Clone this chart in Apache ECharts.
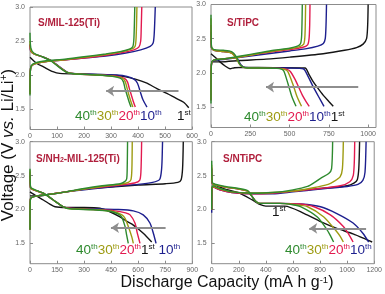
<!DOCTYPE html>
<html><head><meta charset="utf-8">
<script src="https://cdn.jsdelivr.net/npm/echarts@6/dist/echarts.min.js"></script>
<style>html,body{margin:0;padding:0;background:#fff}#c{width:385px;height:294px}</style>
</head><body><div id="c"></div>
<script>
const cycleNames = ['1st','10th','20th','30th','40th'];
const cycleColors = ['#141414','#1d1f8e','#e21a4f','#9d9b12','#2e8a2e'];
const yTicks = [1.5, 2.0, 2.5, 3.0];
const aXTicks = [0,100,200,300,400,500,600];
const bXTicks = [0,250,500,750,1000];
const cXTicks = [0,150,300,450,600,750,900];
const dXTicks = [0,200,400,600,800,1000,1200];
const panelTitles = ['S/MIL-125(Ti)','S/TiPC','S/NH2-MIL-125(Ti)','S/NTiPC'];

// Panel A: S/MIL-125(Ti)  discharge / charge, cycles 1,10,20,30,40
const aDis1 = [[0,2.26],[25,2.17],[50,2.12],[85,2.05],[110,2.025],[200,2.015],[300,2.0],[345,1.98],[390,1.94],[433,1.88],[470,1.8],[507,1.73],[540,1.66],[569,1.6],[588,1.52]];
const aDis10 = [[0,2.45],[3,2.35],[15,2.31],[45,2.27],[80,2.21],[110,2.12],[140,2.04],[170,2.02],[250,2.01],[320,2.0],[359,1.98],[385,1.94],[398,1.88],[408,1.76],[418,1.64],[433,1.53]];
const aDis20 = [[0,2.45],[3,2.35],[15,2.31],[45,2.27],[78,2.21],[108,2.12],[138,2.04],[165,2.02],[250,2.0],[320,1.985],[350,1.95],[361,1.9],[368,1.8],[375,1.71],[382,1.62],[390,1.53]];
const aDis30 = [[0,2.5],[3,2.36],[15,2.31],[45,2.27],[78,2.21],[108,2.12],[138,2.04],[165,2.02],[250,2.0],[315,1.98],[343,1.95],[353,1.9],[360,1.8],[366,1.71],[373,1.62],[381,1.53]];
const aDis40 = [[0,2.62],[3,2.4],[15,2.32],[45,2.27],[76,2.21],[106,2.12],[136,2.04],[160,2.02],[250,2.0],[305,1.98],[336,1.95],[346,1.9],[352,1.8],[359,1.71],[366,1.62],[374,1.53]];
const aChg10 = [[0,1.75],[1,2.05],[5,2.13],[20,2.17],[60,2.2],[120,2.22],[200,2.25],[280,2.28],[350,2.32],[410,2.37],[445,2.42],[456,2.47],[460,2.6],[464,3.0]];
const aChg20 = [[0,1.72],[1,2.05],[5,2.13],[20,2.17],[60,2.2],[120,2.22],[200,2.25],[280,2.29],[340,2.33],[385,2.37],[403,2.41],[410,2.5],[412,2.7],[414,3.0]];
const aChg30 = [[0,1.72],[1,2.05],[5,2.13],[20,2.17],[60,2.2],[120,2.22],[200,2.26],[280,2.3],[335,2.34],[375,2.38],[389,2.42],[393,2.55],[396,3.0]];
const aChg40 = [[0,1.7],[1,2.05],[5,2.14],[20,2.18],[60,2.21],[120,2.23],[200,2.27],[280,2.31],[330,2.34],[368,2.38],[381,2.42],[385,2.55],[388,3.0]];
const aArrow = [[550,1.765],[282,1.765]];

// Panel B: S/TiPC
const bDis1 = [[0,2.28],[30,2.22],[57,2.16],[90,2.1],[121,2.06],[150,2.075],[200,2.08],[400,2.075],[598,2.07],[625,1.97],[650,1.87],[675,1.79],[715,1.67],[750,1.58],[778,1.51]];
const bDis10 = [[0,2.6],[3,2.37],[20,2.33],[80,2.31],[135,2.29],[165,2.22],[190,2.12],[215,2.08],[300,2.075],[500,2.07],[587,2.06],[615,1.96],[645,1.82],[685,1.65],[719,1.51]];
const bDis20 = [[0,2.7],[3,2.37],[20,2.33],[80,2.31],[132,2.29],[160,2.22],[185,2.12],[210,2.08],[300,2.07],[440,2.065],[482,2.05],[505,2.02],[538,1.89],[560,1.78],[582,1.67],[605,1.58],[625,1.51]];
const bDis30 = [[0,2.8],[3,2.37],[20,2.33],[80,2.31],[130,2.29],[158,2.22],[183,2.12],[205,2.08],[300,2.07],[430,2.065],[468,2.05],[488,2.02],[520,1.84],[548,1.65],[576,1.51]];
const bDis40 = [[0,2.85],[3,2.38],[20,2.34],[78,2.33],[131,2.31],[160,2.24],[180,2.14],[200,2.09],[230,2.07],[300,2.07],[420,2.065],[452,2.05],[465,2.02],[490,1.84],[515,1.65],[541,1.51]];
const bChg1 = [[0,2.16],[60,2.16],[184,2.18],[350,2.2],[502,2.23],[714,2.28],[850,2.33],[926,2.37],[968,2.42],[990,2.5],[997,2.7],[1000,3.0]];
const bChg10 = [[0,1.6],[1,2.05],[5,2.14],[20,2.18],[100,2.2],[200,2.23],[300,2.26],[400,2.29],[500,2.32],[600,2.35],[680,2.39],[715,2.43],[727,2.5],[732,2.7],[735,3.0]];
const bChg20 = [[0,1.6],[1,2.05],[5,2.15],[20,2.19],[100,2.21],[200,2.24],[300,2.28],[400,2.31],[500,2.34],[580,2.37],[615,2.41],[624,2.5],[628,2.7],[630,3.0]];
const bChg30 = [[0,1.6],[1,2.05],[5,2.15],[20,2.19],[100,2.21],[200,2.24],[300,2.28],[400,2.32],[500,2.35],[560,2.38],[590,2.42],[598,2.55],[602,3.0]];
const bChg40 = [[0,1.55],[1,2.05],[5,2.16],[20,2.19],[100,2.21],[200,2.25],[300,2.29],[400,2.33],[500,2.36],[550,2.39],[570,2.43],[577,2.55],[581,3.0]];
const bArrow = [[937,1.79],[350,1.79]];

// Panel C: S/NH2-MIL-125(Ti)
const cDis1 = [[0,2.26],[35,2.2],[74,2.14],[110,2.08],[139,2.04],[200,2.03],[300,2.03],[388,2.02],[440,1.97],[499,1.89],[540,1.82],[573,1.77],[628,1.65],[675,1.52]];
const cDis10 = [[0,2.5],[3,2.32],[20,2.29],[74,2.24],[129,2.14],[185,2.04],[222,2.02],[350,2.01],[480,2.0],[573,1.98],[628,1.92],[665,1.8],[684,1.65],[699,1.5]];
const cDis20 = [[0,2.55],[3,2.32],[20,2.29],[74,2.24],[129,2.14],[185,2.04],[222,2.02],[350,2.0],[470,1.98],[530,1.95],[555,1.92],[582,1.8],[595,1.65],[610,1.5]];
const cDis30 = [[0,2.58],[3,2.32],[20,2.29],[74,2.24],[129,2.14],[185,2.04],[222,2.01],[350,2.0],[460,1.97],[510,1.92],[527,1.87],[545,1.75],[564,1.6],[573,1.5]];
const cDis40 = [[0,2.6],[3,2.33],[20,2.3],[74,2.24],[129,2.14],[185,2.04],[222,2.01],[350,1.995],[450,1.97],[490,1.93],[508,1.89],[527,1.75],[536,1.62],[545,1.5]];
const cChg1 = [[0,2.2],[50,2.2],[100,2.22],[200,2.26],[300,2.3],[450,2.33],[600,2.36],[750,2.38],[820,2.4],[838,2.44],[846,2.6],[850,3.0]];
const cChg10 = [[0,1.7],[1,2.1],[5,2.17],[40,2.2],[100,2.22],[200,2.26],[300,2.29],[400,2.32],[500,2.35],[600,2.37],[680,2.4],[718,2.44],[728,2.55],[732,2.7],[735,3.0]];
const cChg20 = [[0,1.7],[1,2.1],[5,2.17],[40,2.2],[100,2.22],[200,2.26],[300,2.3],[400,2.33],[500,2.36],[580,2.39],[608,2.43],[615,2.55],[619,3.0]];
const cChg30 = [[0,1.7],[1,2.1],[5,2.17],[40,2.2],[100,2.22],[200,2.26],[300,2.3],[400,2.34],[500,2.37],[545,2.4],[560,2.44],[565,2.6],[567,3.0]];
const cChg40 = [[0,1.7],[1,2.1],[5,2.17],[40,2.2],[100,2.22],[200,2.26],[300,2.31],[400,2.35],[500,2.38],[525,2.41],[536,2.45],[539,2.6],[541,3.0]];
const cArrow = [[752,1.73],[449,1.73]];

// Panel D: S/NTiPC
const dDis1 = [[0,2.42],[5,2.39],[84,2.31],[204,2.24],[300,2.14],[360,2.07],[400,2.05],[540,2.05],[684,1.94],[804,1.82],[924,1.72],[1044,1.64],[1140,1.56],[1185,1.52]];
const dDis10 = [[0,2.6],[3,2.4],[12,2.37],[100,2.33],[200,2.3],[265,2.27],[295,2.2],[325,2.12],[355,2.09],[500,2.09],[660,2.08],[804,2.04],[924,1.94],[1044,1.8],[1116,1.65],[1159,1.52]];
const dDis20 = [[0,2.62],[3,2.4],[12,2.37],[100,2.33],[200,2.3],[265,2.27],[295,2.2],[325,2.12],[355,2.09],[500,2.09],[650,2.08],[756,2.04],[876,1.92],[972,1.75],[1010,1.64],[1044,1.52]];
const dDis30 = [[0,2.66],[3,2.41],[12,2.37],[100,2.33],[200,2.3],[265,2.27],[295,2.2],[325,2.12],[355,2.09],[500,2.09],[620,2.07],[708,2.04],[828,1.89],[912,1.7],[950,1.6],[972,1.52]];
const dDis40 = [[0,2.72],[3,2.42],[12,2.38],[100,2.34],[200,2.31],[265,2.28],[295,2.2],[325,2.12],[355,2.09],[500,2.09],[600,2.07],[660,2.04],[780,1.89],[852,1.7],[880,1.6],[900,1.52]];
const dChg1 = [[0,2.0],[1,2.28],[10,2.33],[60,2.3],[150,2.26],[300,2.24],[450,2.24],[600,2.27],[800,2.31],[1000,2.35],[1050,2.39],[1075,2.44],[1086,2.6],[1092,3.0]];
const dChg10 = [[0,1.95],[1,2.28],[10,2.33],[60,2.29],[150,2.25],[300,2.23],[450,2.23],[600,2.26],[800,2.3],[1000,2.34],[1080,2.37],[1116,2.43],[1132,2.55],[1140,3.0]];
const dChg20 = [[0,2.0],[1,2.28],[10,2.33],[60,2.29],[150,2.25],[300,2.23],[450,2.24],[600,2.27],[800,2.31],[950,2.35],[1020,2.41],[1045,2.5],[1053,2.7],[1056,3.0]];
const dChg30 = [[0,2.0],[1,2.29],[10,2.34],[60,2.3],[150,2.26],[300,2.24],[450,2.25],[600,2.27],[750,2.32],[860,2.37],[900,2.41],[948,2.48],[965,2.6],[972,3.0]];
const dChg40 = [[0,2.0],[1,2.3],[10,2.35],[60,2.31],[150,2.26],[300,2.24],[450,2.25],[600,2.29],[708,2.34],[760,2.4],[804,2.46],[864,2.53],[885,2.6],[893,3.0]];
const dArrow = [[1140,1.72],[720,1.72]];

const FONT = "'Liberation Sans', Arial, Helvetica, sans-serif";
const panels = [
  {grid:{left:30, top:7, width:162, height:122.5}, xMax:600, xTicks:aXTicks,
   dis:[aDis1,aDis10,aDis20,aDis30,aDis40], chg:[null,aChg10,aChg20,aChg30,aChg40], arrow:aArrow},
  {grid:{left:211, top:4.5, width:165, height:123}, xMax:1050, xTicks:bXTicks,
   dis:[bDis1,bDis10,bDis20,bDis30,bDis40], chg:[bChg1,bChg10,bChg20,bChg30,bChg40], arrow:bArrow},
  {grid:{left:30, top:141.7, width:162.3, height:122}, xMax:900, xTicks:cXTicks,
   dis:[cDis1,cDis10,cDis20,cDis30,cDis40], chg:[cChg1,cChg10,cChg20,cChg30,cChg40], arrow:cArrow},
  {grid:{left:211.7, top:141.7, width:166.6, height:122}, xMax:1200, xTicks:dXTicks,
   dis:[dDis1,dDis10,dDis20,dDis30,dDis40], chg:[dChg1,dChg10,dChg20,dChg30,dChg40], arrow:dArrow}
];

const grids = [], xAxes = [], yAxes = [], series = [];
panels.forEach((p, i) => {
  grids.push(Object.assign({show:true, borderColor:'#8c8c8c', borderWidth:1, backgroundColor:'rgba(0,0,0,0)'}, p.grid));
  xAxes.push({type:'value', gridIndex:i, min:0, max:p.xMax,
    axisLine:{show:false}, splitLine:{show:false},
    axisTick:{show:true, inside:true, length:3, customValues:p.xTicks, lineStyle:{color:'#8c8c8c'}},
    axisLabel:{customValues:p.xTicks, fontSize:7, color:'#666', margin:3, fontFamily:FONT,
      formatter: v => String(Math.round(v))}});
  yAxes.push({type:'value', gridIndex:i, min:1.2, max:3.0,
    axisLine:{show:false}, splitLine:{show:false},
    axisTick:{show:true, inside:true, length:3, customValues:yTicks, lineStyle:{color:'#8c8c8c'}},
    axisLabel:{customValues:yTicks, fontSize:7, color:'#666', margin:5, fontFamily:FONT,
      formatter: v => Number(v).toFixed(1)}});
  const start = series.length;
  for (let k = 0; k < 5; k++) {
    [p.dis[k], p.chg[k]].forEach(d => {
      if (!d) return;
      series.push({type:'line', name:cycleNames[k], xAxisIndex:i, yAxisIndex:i, data:d,
        showSymbol:false, symbol:'none', smooth:0.25, silent:true,
        lineStyle:{color:cycleColors[k], width:1.4}, itemStyle:{color:cycleColors[k]}});
    });
  }
  series[start].markLine = {silent:true, symbol:['none','arrow'], symbolSize:8, animation:false,
    label:{show:false}, lineStyle:{color:'#8e8e8e', width:2, type:'solid'},
    emphasis:{disabled:true},
    data:[[{coord:p.arrow[0]},{coord:p.arrow[1]}]]};
});

function rich(fs, ss) {
  const r = {};
  const keys = {k:cycleColors[0], b:cycleColors[1], r:cycleColors[2], o:cycleColors[3], g:cycleColors[4]};
  Object.keys(keys).forEach(n => {
    r[n] = {fill:keys[n], color:keys[n], fontSize:fs, fontFamily:FONT, verticalAlign:'middle'};
    r[n+'s'] = {fill:keys[n], color:keys[n], fontSize:ss, fontFamily:FONT, verticalAlign:'top'};
  });
  return r;
}
const R = rich(13.5, 8);
function lbl(x, y, txt) {
  return {type:'text', x:x, y:y, silent:true,
    style:{text:txt, rich:R, align:'left', textAlign:'left', verticalAlign:'middle', textVerticalAlign:'middle', fontSize:13.5, fontFamily:FONT}};
}
function title(x, y, txt) {
  return {type:'text', x:x, y:y, silent:true,
    style:{text:txt, fill:'#b01f3c', fontSize:10, fontWeight:'bold', fontFamily:FONT,
      align:'left', textAlign:'left', verticalAlign:'middle', textVerticalAlign:'middle',
      rich:{t:{fill:'#b01f3c', fontSize:10, fontWeight:'bold', fontFamily:FONT, verticalAlign:'middle'},
            sub:{fill:'#b01f3c', fontSize:7, fontWeight:'bold', fontFamily:FONT, verticalAlign:'bottom'}}}};
}
const sup = n => '{' + n + '|' + ['40','30','20','10','1'][['g','o','r','b','k'].indexOf(n)] + '}{' + n + 's|' + (n === 'k' ? 'st' : 'th') + '}';

const graphic = [
  title(38, 23, '{t|' + panelTitles[0] + '}'),
  title(227, 23, '{t|' + panelTitles[1] + '}'),
  title(36, 159, '{t|S/NH}{sub|2}{t|-MIL-125(Ti)}'),
  title(223, 159, '{t|' + panelTitles[3] + '}'),
  lbl(75, 116, sup('g') + sup('o') + sup('r') + sup('b')),
  lbl(177, 116, sup('k')),
  lbl(244, 117, sup('g') + sup('o') + sup('r') + sup('b') + sup('k')),
  lbl(76, 250, sup('g') + sup('o') + sup('r') + sup('k') + '{k| }' + sup('b')),
  lbl(285, 250, sup('g') + sup('o') + sup('r') + sup('b')),
  lbl(272, 212, sup('k')),
  {type:'text', x:8, y:145, rotation:Math.PI/2, silent:true,
   style:{text:'{n|Voltage (V }{i|vs.}{n| Li/Li}{s|+}{n|)}', align:'center', textAlign:'center', verticalAlign:'middle', textVerticalAlign:'middle',
     rich:{n:{fill:'#111', fontSize:17, fontFamily:FONT, verticalAlign:'middle'},
           i:{fill:'#111', fontSize:17, fontStyle:'italic', fontFamily:FONT, verticalAlign:'middle'},
           s:{fill:'#111', fontSize:10, fontFamily:FONT, verticalAlign:'top'}}}},
  {type:'text', x:227, y:283, silent:true,
   style:{text:'{n|Discharge Capacity (mA h g}{s|-1}{n|)}', align:'center', textAlign:'center', verticalAlign:'middle', textVerticalAlign:'middle',
     rich:{n:{fill:'#111', fontSize:16, fontFamily:FONT, verticalAlign:'middle'},
           s:{fill:'#111', fontSize:9.5, fontFamily:FONT, verticalAlign:'top'}}}}
];

const chart = echarts.init(document.getElementById('c'), null, {renderer:'canvas'});
chart.setOption({animation:false, backgroundColor:'#fff', grid:grids, xAxis:xAxes, yAxis:yAxes, series:series, graphic:graphic});
</script></body></html>
